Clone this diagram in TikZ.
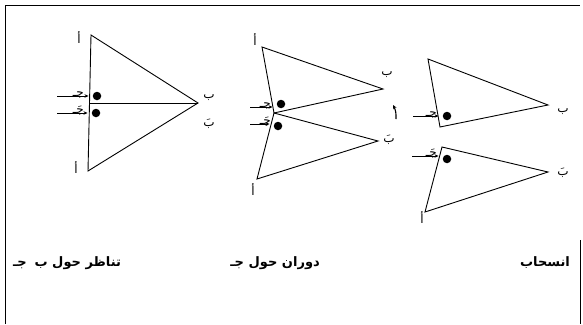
\documentclass[tikz,border=0pt]{standalone}
\usepackage{fontspec}
\newfontfamily\arabicfont[Script=Arabic]{DejaVu Sans}
\TeXXeTstate=1
\usetikzlibrary{arrows.meta}
\tikzset{
  edge/.style={line width=0.9pt, line join=miter},
  spot/.style={circle, fill=black, inner sep=0pt, minimum size=8.5pt},
  pointer/.style={-{Stealth[length=4pt, width=3.5pt]}, line width=0.7pt, shorten >=4pt},
  turn/.style={-{Stealth[length=4pt, width=4pt]}, line width=1.1pt},
  letter/.style={font=\arabicfont\fontsize{12}{14}\selectfont, inner sep=0pt},
  caption/.style={font=\arabicfont\bfseries\fontsize{13}{15}\selectfont, inner sep=0pt},
  frame/.style={line width=0.9pt},
}

\begin{document}
\begin{tikzpicture}[x=1pt, y=-1pt]
  \useasboundingbox (0,0) rectangle (583,324);

  % ---------- frame (open on the lower right, as scanned) ----------
  \draw[frame] (5,324) -- (5,5) -- (580,5);
  \draw[frame] (580,240) -- (580,324);

  % ---------- reflection about BC ----------
  \coordinate (rA) at (91,35);
  \coordinate (rA2) at (88,171);
  \coordinate (rB) at (198,103);
  \coordinate (rC) at (89.5,103);
  \draw[edge] (rA) -- (rB) -- (rA2) -- cycle;
  \draw[edge] (rC) -- (rB);
  \node[spot] (rD1) at (97,96) {};
  \node[spot] (rD2) at (96,113) {};
  \coordinate (rP1) at (57,96);
  \coordinate (rP2) at (57,113);
  \draw[pointer] (rP1) -- (rP1 -| rD1.west);
  \draw[pointer] (rP2) -- (rP2 -| rD2.west);
  \node[letter, anchor=base east] (rJ1) at (84,96) {\beginR جـ\endR};
  \node[letter, anchor=base east] (rJ2) at (84,113) {\beginR جَـ\endR};
  \node[letter] (rAt) at (79,38) {\beginR أ\endR};
  \node[letter] (rAb) at (76,168) {\beginR أ\endR};
  \node[letter] (rBt) at (209,98) {\beginR ب\endR};
  \node[letter] (rBb) at (209,124) {\beginR بَ\endR};

  % ---------- rotation about C ----------
  \coordinate (oA) at (262,47);
  \coordinate (oC) at (274,113);
  \coordinate (oB) at (383,89);
  \coordinate (oB2) at (378,141);
  \coordinate (oA2) at (257,179);
  \draw[edge] (oA) -- (oB) -- (oC) -- cycle;
  \draw[edge] (oC) -- (oB2) -- (oA2) -- cycle;
  \node[spot] (oD1) at (281,104) {};
  \node[spot] (oD2) at (278,126) {};
  \coordinate (oP1) at (250,107);
  \coordinate (oP2) at (250,124);
  \draw[pointer] (oP1) -- (oP1 -| oD1.west);
  \draw[pointer] (oP2) -- (oP2 -| oD2.west);
  \node[letter, anchor=base east] (oJ1) at (271,107) {\beginR جـ\endR};
  \node[letter, anchor=base east] (oJ2) at (271,124) {\beginR جَـ\endR};
  \node[letter] (oAt) at (255,40) {\beginR أ\endR};
  \node[letter] (oAb) at (253,190) {\beginR أ\endR};
  \node[letter] (oBt) at (387,75) {\beginR ب\endR};
  \node[letter] (oBb) at (389,140) {\beginR بَ\endR};
  \coordinate (oQ1) at (396,119);
  \coordinate (oQ2) at (393,105);
  \draw[turn] (oQ1) to[bend right=15] (oQ2);

  % ---------- translation ----------
  \coordinate (tA) at (428,59);
  \coordinate (tB) at (548,105);
  \coordinate (tC) at (440,127);
  \coordinate (tC2) at (442,147);
  \coordinate (tB2) at (548,172);
  \coordinate (tA2) at (425,212);
  \draw[edge] (tA) -- (tB) -- (tC) -- cycle;
  \draw[edge] (tC2) -- (tB2) -- (tA2) -- cycle;
  \node[spot] (tD1) at (447,116) {};
  \node[spot] (tD2) at (447,159) {};
  \coordinate (tP1) at (413,116);
  \coordinate (tP2) at (412,156);
  \draw[pointer] (tP1) -- (tP1 -| tD1.west);
  \draw[pointer] (tP2) -- (tP2 -| tD2.west);
  \node[letter, anchor=base east] (tJ1) at (437,116) {\beginR جـ\endR};
  \node[letter, anchor=base east] (tJ2) at (437,156) {\beginR جَـ\endR};
  \node[letter] (tBt) at (563,112) {\beginR ب\endR};
  \node[letter] (tBb) at (563,173) {\beginR بَ\endR};
  \node[letter] (tAb) at (422,218) {\beginR أ\endR};

  % ---------- captions ----------
  \node[caption] (capR) at (67,263) {\beginR تناظر حول ب\hspace{0.6em}جـ\endR};
  \node[caption] (capO) at (275,263) {\beginR دوران حول جـ\endR};
  \node[caption] (capT) at (545,263) {\beginR انسحاب\endR};

\end{tikzpicture}
\end{document}
